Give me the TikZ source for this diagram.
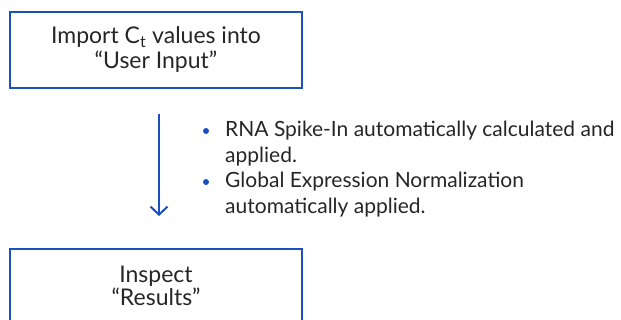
\documentclass[tikz,border=0pt]{standalone}
\usepackage{fontspec}
\setmainfont{Lato}
\usepackage{tikz}
\usetikzlibrary{arrows.meta}
\definecolor{stepblue}{RGB}{26,80,192}

\begin{document}
\begin{tikzpicture}[x=1pt,y=1pt,
    stepbox/.style={draw=stepblue, line width=2pt, minimum width=292pt, inner sep=0pt, align=center, font=\fontsize{23}{25}\selectfont, text=black!85},
    note/.style={anchor=west, align=left, inner sep=0pt, font=\fontsize{21}{25.5}\selectfont, text=black!85},
    dot/.style={circle, fill=stepblue, inner sep=0pt, minimum size=6pt}]
      \clip (0,0) rectangle (621,320);
      \useasboundingbox (0,0) rectangle (621,320);
      \node (import) at (156,270) [stepbox, minimum height=76pt] {Import C\textsubscript{t} values into\\“User Input”};
      \node (inspect) at (156,25.5) [stepbox, minimum height=91pt] {};
      \node (inspecttext) at (156,34.5) [inner sep=0pt, align=center, font=\fontsize{23}{23}\selectfont, text=black!85] {Inspect\\“Results”};
      \coordinate (top) at (159,206);
      \coordinate (bot) at (159,104);
      \node (b1) at (206,189) [dot] {};
      \node (b2) at (206,138) [dot] {};
      \node (t1) at (225,176.5) [note] {RNA Spike-In automatically calculated and\\applied.};
      \node (t2) at (225,125.5) [note] {Global Expression Normalization\\automatically applied.};

      \draw[stepblue, line width=2pt, -{Straight Barb[length=8pt,width=17pt]}]
      (top) to (bot);
    \end{tikzpicture}
\end{document}
